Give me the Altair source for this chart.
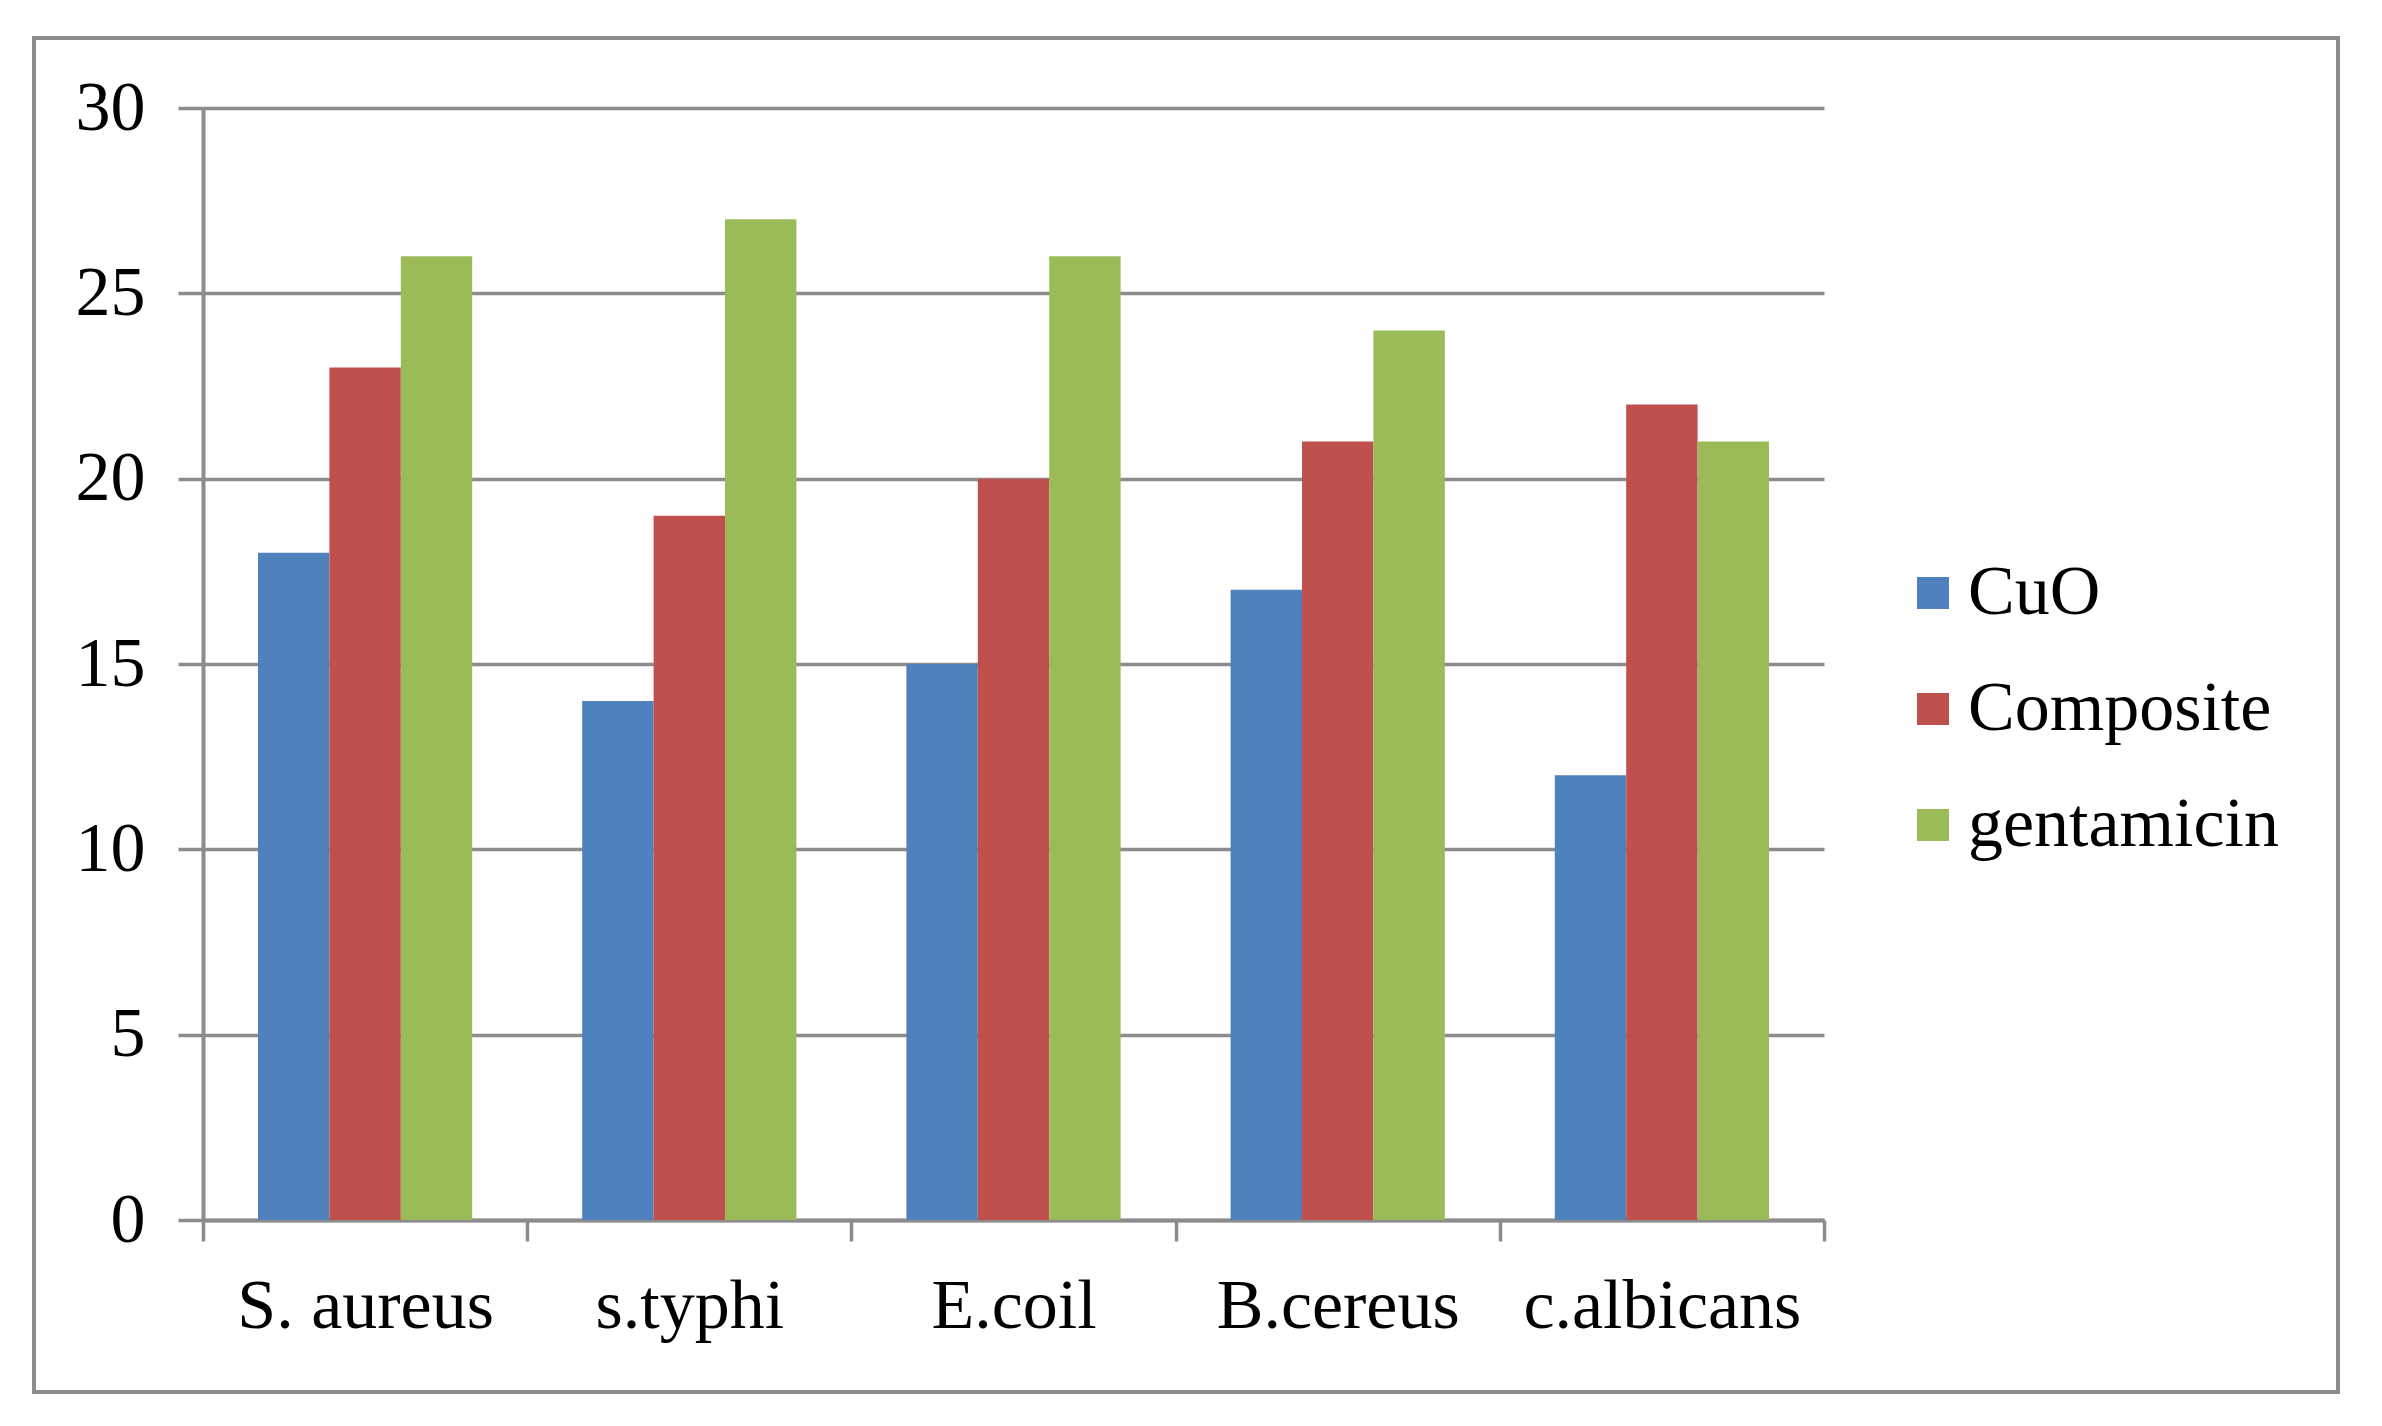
import altair as alt
import pandas as pd

categories = ["S. aureus", "s.typhi", "E.coil", "B.cereus", "c.albicans"]
series = ["CuO", "Composite", "gentamicin"]
cuo = [18, 14, 15, 17, 12]
composite = [23, 19, 20, 21, 22]
gentamicin = [26, 27, 26, 24, 21]
colors = ["#4F81BD", "#C0504D", "#9BBB59"]
y_ticks = [0, 5, 10, 15, 20, 25, 30]

rows = []
for s, vals in zip(series, [cuo, composite, gentamicin]):
    for c, v in zip(categories, vals):
        rows.append({"organism": c, "series": s, "value": v})
df = pd.DataFrame(rows)

W, H = 1621, 1112
FONT = "Liberation Serif"
GRAY = "#8c8c8c"

bars = alt.Chart(df).mark_bar().encode(
    x=alt.X("organism:N", sort=categories, title=None,
            scale=alt.Scale(paddingInner=0, paddingOuter=0),
            axis=alt.Axis(labelAngle=0, tickBand="extent", tickSize=21,
                          tickColor=GRAY, tickWidth=3.5, domainColor=GRAY,
                          domainWidth=4, labelFont=FONT, labelFontSize=70,
                          labelColor="black", labelPadding=31, grid=False,
                          labelLimit=0)),
    xOffset=alt.XOffset("series:N", sort=series,
                        scale=alt.Scale(paddingInner=0, paddingOuter=0.77)),
    y=alt.Y("value:Q", title=None,
            scale=alt.Scale(domain=[0, 30], nice=False),
            axis=alt.Axis(values=y_ticks, grid=True, gridColor=GRAY,
                          gridWidth=3.5, tickSize=25, tickColor=GRAY,
                          tickWidth=3.5, domainColor=GRAY, domainWidth=4,
                          labelFont=FONT, labelFontSize=70, labelColor="black",
                          labelPadding=33)),
    color=alt.Color("series:N", sort=series, title=None,
                    scale=alt.Scale(domain=series, range=colors),
                    legend=alt.Legend(orient="none", legendX=1695, legendY=450,
                                      symbolType="square", symbolSize=1024,
                                      symbolStrokeWidth=0, symbolOpacity=1,
                                      labelFont=FONT, labelFontSize=70,
                                      labelColor="black", rowPadding=46,
                                      labelOffset=0, padding=0, labelLimit=0)),
)

border = alt.Chart(pd.DataFrame({"k": [0]})).mark_rect(
    fill="white", fillOpacity=0, stroke=GRAY, strokeWidth=4
).encode(
    x=alt.value(-169), x2=alt.value(2135),
    y=alt.value(-70), y2=alt.value(1284),
)

chart = alt.layer(bars, border).properties(
    width=W, height=H,
    autosize=alt.AutoSizeParams(type="none"),
    padding={"left": 195, "top": 100, "right": 538, "bottom": 196},
    background="white",
).configure_view(strokeWidth=0)

chart.save("out.html", embed_options={"renderer": "svg", "actions": False})
